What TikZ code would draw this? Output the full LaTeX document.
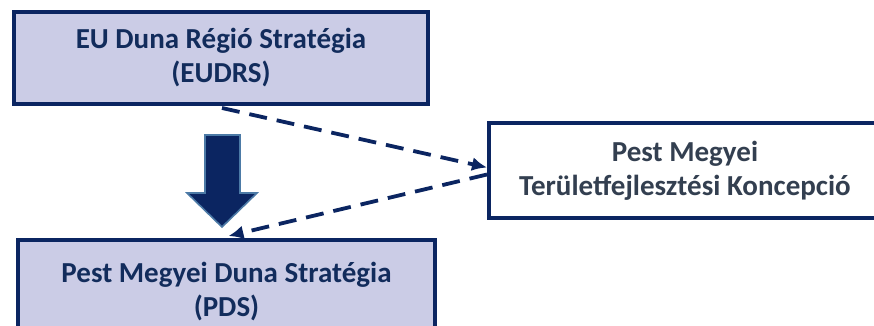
\documentclass[tikz,border=0pt]{standalone}
\usepackage{fontspec}
\setmainfont{Carlito}
\usetikzlibrary{arrows.meta}
\definecolor{navy}{HTML}{0B2561}
\definecolor{lav}{HTML}{CBCCE6}
\definecolor{txtnavy}{HTML}{122C5C}
\definecolor{txtgray}{HTML}{333F50}
\definecolor{arrowedge}{HTML}{4C7AA6}
\tikzset{
  box/.style={draw=navy, line width=4pt, align=center, inner sep=0pt,
    font=\fontsize{29}{34}\selectfont\bfseries},
  bluebox/.style={box, fill=lav, text=txtnavy},
  whitebox/.style={box, fill=white, text=txtgray},
  dasharrow/.style={draw=navy, line width=3.8pt, dash pattern=on 18pt off 10pt,
    -{Latex[length=15pt,width=14pt]}},
}
\begin{document}
\begin{tikzpicture}[x=1pt,y=1pt]
\useasboundingbox (0,0) rectangle (874,326);
\clip (0,0) rectangle (874,326);
% top box: x 14-428, y_img 12-104
\node[bluebox, minimum width=414pt, minimum height=92pt] (eu) at (221,268)
  {EU Duna Régió Stratégia\\(EUDRS)};
% bottom box: x 18-435, y_img 240-346
\node[bluebox, minimum width=417pt, minimum height=104pt] (pds) at (226.5,34)
  {Pest Megyei Duna Stratégia\\(PDS)};
% right box: x 489-881, y_img 123-218
\node[whitebox, minimum width=392pt, minimum height=95pt] (pmk) at (685,155.5)
  {Pest Megyei\\Területfejlesztési Koncepció};
% big arrow
\draw[fill=navy, draw=arrowedge, line width=1.6pt, line join=miter]
  (205,191) -- (240,191) -- (240,133) -- (257,133) -- (222,99) -- (187,133)
  -- (205,133) -- cycle;
% dashed arrows
\coordinate (a1s) at ([xshift=1pt,yshift=-2pt]eu.south);
\coordinate (a1e) at ([yshift=3pt]pmk.west);
\coordinate (a2s) at ([yshift=-4pt]pmk.west);
\coordinate (a2e) at ([xshift=2pt,yshift=2pt]pds.north);
\draw[dasharrow] (a1s) -- (a1e);
\draw[dasharrow] (a2s) -- (a2e);
\end{tikzpicture}
\end{document}
